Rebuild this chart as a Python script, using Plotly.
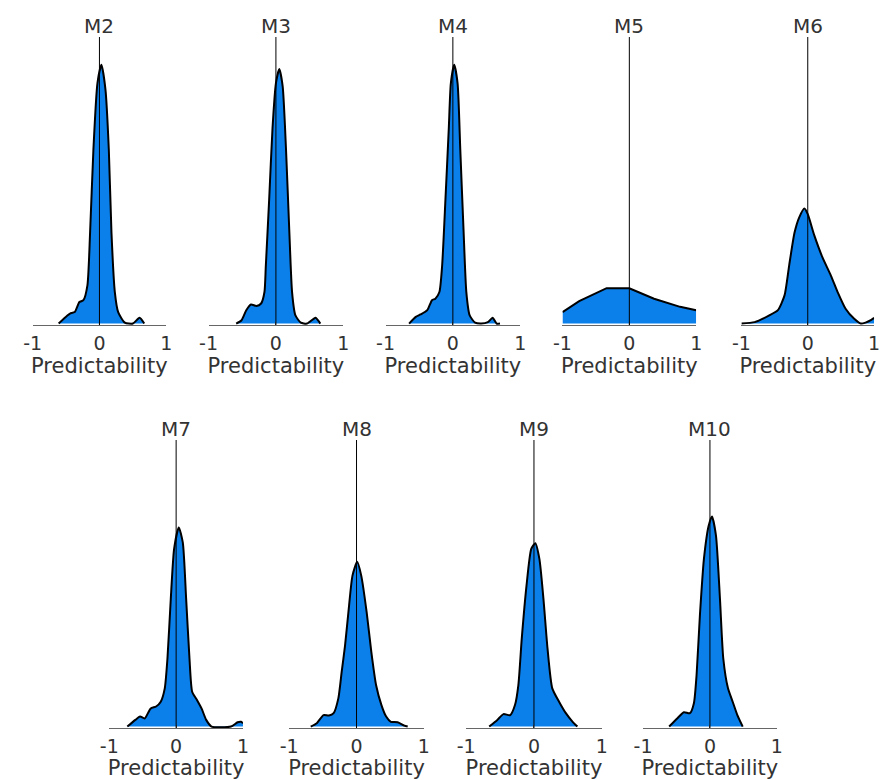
import plotly.graph_objects as go

# ---------------- data (density curves) ----------------
panels = ["M2", "M3", "M4", "M5", "M6", "M7", "M8", "M9", "M10"]

M2_x = [-0.61, -0.48, -0.44, -0.37, -0.30, -0.24, -0.18, -0.14, -0.09, -0.03, 0.03, 0.09, 0.14, 0.18, 0.23, 0.28, 0.38, 0.50, 0.60, 0.67]
M2_y = [0.0, 0.17, 0.21, 0.24, 0.45, 0.49, 0.80, 1.90, 3.65, 5.03, 5.42, 4.90, 3.65, 1.90, 0.66, 0.24, 0.02, 0.0, 0.12, 0.0]

M3_x = [-0.59, -0.51, -0.44, -0.37, -0.29, -0.22, -0.17, -0.15, -0.10, -0.05, 0.0, 0.05, 0.10, 0.15, 0.20, 0.24, 0.29, 0.37, 0.46, 0.56, 0.59, 0.66]
M3_y = [0.0, 0.07, 0.28, 0.40, 0.37, 0.42, 0.66, 1.20, 2.60, 4.10, 5.03, 5.33, 4.97, 3.65, 1.90, 0.66, 0.17, 0.02, 0.0, 0.10, 0.12, 0.0]

M4_x = [-0.65, -0.55, -0.48, -0.38, -0.31, -0.26, -0.20, -0.16, -0.11, -0.06, -0.03, 0.02, 0.07, 0.11, 0.16, 0.20, 0.25, 0.33, 0.42, 0.52, 0.59, 0.65, 0.70]
M4_y = [0.0, 0.14, 0.19, 0.28, 0.49, 0.52, 0.66, 1.20, 2.60, 4.10, 5.03, 5.42, 5.03, 3.65, 1.90, 0.66, 0.17, 0.02, 0.0, 0.03, 0.12, 0.0, 0.0]

M5_x = [-1.0, -0.75, -0.34, 0.0, 0.37, 0.76, 1.0]
M5_y = [0.24, 0.47, 0.74, 0.74, 0.52, 0.35, 0.28]

M6_x = [-1.0, -0.80, -0.58, -0.45, -0.35, -0.28, -0.20, -0.13, -0.05, 0.0, 0.10, 0.22, 0.35, 0.45, 0.57, 0.70, 0.80, 0.87, 0.95, 1.0]
M6_y = [0.0, 0.03, 0.17, 0.28, 0.59, 1.22, 1.90, 2.22, 2.41, 2.29, 1.84, 1.39, 1.00, 0.66, 0.31, 0.10, 0.0, 0.02, 0.07, 0.12]

M7_x = [-0.73, -0.61, -0.54, -0.47, -0.38, -0.30, -0.23, -0.17, -0.13, -0.08, -0.03, 0.04, 0.10, 0.15, 0.20, 0.24, 0.31, 0.38, 0.45, 0.53, 0.82, 0.92, 0.97, 1.0]
M7_y = [0.0, 0.14, 0.21, 0.17, 0.38, 0.42, 0.52, 0.80, 1.42, 2.67, 3.72, 4.17, 3.85, 2.67, 1.42, 0.73, 0.56, 0.38, 0.14, 0.0, 0.0, 0.09, 0.10, 0.07]

M8_x = [-0.68, -0.59, -0.49, -0.41, -0.34, -0.27, -0.22, -0.17, -0.12, -0.06, 0.01, 0.07, 0.15, 0.22, 0.29, 0.37, 0.44, 0.51, 0.61, 0.71, 0.76]
M8_y = [0.0, 0.07, 0.24, 0.23, 0.28, 0.59, 1.15, 1.70, 2.40, 3.16, 3.45, 3.16, 2.40, 1.56, 0.87, 0.45, 0.21, 0.10, 0.09, 0.02, 0.0]

M9_x = [-0.66, -0.54, -0.45, -0.35, -0.28, -0.23, -0.18, -0.11, -0.04, 0.02, 0.08, 0.14, 0.20, 0.27, 0.37, 0.47, 0.57, 0.64]
M9_y = [0.0, 0.14, 0.26, 0.24, 0.45, 0.87, 1.84, 2.95, 3.72, 3.84, 3.51, 2.67, 1.63, 0.80, 0.52, 0.28, 0.10, 0.0]

M10_x = [-0.61, -0.49, -0.39, -0.30, -0.24, -0.20, -0.15, -0.09, -0.02, 0.03, 0.09, 0.15, 0.20, 0.27, 0.34, 0.41, 0.49]
M10_y = [0.0, 0.17, 0.30, 0.28, 0.49, 1.08, 2.33, 3.51, 4.20, 4.40, 4.00, 2.67, 1.42, 0.80, 0.52, 0.24, 0.0]

curves = {
    "M2": (M2_x, M2_y), "M3": (M3_x, M3_y), "M4": (M4_x, M4_y),
    "M5": (M5_x, M5_y), "M6": (M6_x, M6_y), "M7": (M7_x, M7_y),
    "M8": (M8_x, M8_y), "M9": (M9_x, M9_y), "M10": (M10_x, M10_y),
}

tick_vals = [-1, 0, 1]
tick_text = ["-1", "0", "1"]
x_title = "Predictability"

# ---------------- layout (pixel geometry) ----------------
W, H = 887, 780
panel_px = {
    "M2": (24, 160), "M3": (203, 340), "M4": (383, 520), "M5": (563, 699), "M6": (745, 880),
    "M7": (102, 238), "M8": (285, 422), "M9": (465, 603), "M10": (645, 781),
}
row_px = {"top": (37, 325), "bottom": (440, 728)}
panel_row = {p: ("top" if i < 5 else "bottom") for i, p in enumerate(panels)}

BLUE = "#0B80EB"
TXT = "#333333"
FONT = "DejaVu Sans"

fig = go.Figure()
shapes, annotations = [], []
layout_axes = {}

for i, name in enumerate(panels):
    sfx = "" if i == 0 else str(i + 1)
    xs, ys = curves[name]
    fig.add_trace(go.Scatter(
        x=xs, y=ys, xaxis="x" + sfx, yaxis="y" + sfx, mode="lines",
        line=dict(color="black", width=2,
                  shape="linear" if name == "M5" else "spline", smoothing=0.6),
        fill="tozeroy", fillcolor=BLUE, hoverinfo="skip", showlegend=False,
    ))
    l, r = panel_px[name]
    t, b = row_px[panel_row[name]]
    layout_axes["xaxis" + sfx] = dict(
        domain=[l / W, r / W], range=[-1, 1], anchor="y" + sfx,
        tickvals=tick_vals, ticktext=tick_text, ticks="inside", ticklen=3,
        tickcolor="#555555", tickwidth=1,
        showline=True, linecolor="#666666", linewidth=1,
        showgrid=False, zeroline=False,
        tickfont=dict(family=FONT, size=19, color=TXT),
        ticklabelstandoff=1,
        title=dict(text=x_title, font=dict(family=FONT, size=21, color=TXT), standoff=1),
        fixedrange=True,
    )
    layout_axes["yaxis" + sfx] = dict(
        domain=[1 - b / H, 1 - t / H], range=[-0.03, 6], anchor="x" + sfx,
        visible=False, fixedrange=True,
    )
    shapes.append(dict(type="line", xref="x" + sfx, yref="y" + sfx + " domain",
                       x0=0, x1=0, y0=0, y1=1, line=dict(color="black", width=1)))
    annotations.append(dict(xref="x" + sfx, yref="y" + sfx + " domain", x=0, y=1,
                            yanchor="bottom", xanchor="center", yshift=-3,
                            text=name, showarrow=False,
                            font=dict(family=FONT, size=20, color=TXT)))

fig.update_layout(
    width=W, height=H, margin=dict(l=0, r=0, t=0, b=0),
    paper_bgcolor="white", plot_bgcolor="white",
    shapes=shapes, annotations=annotations, **layout_axes,
)

fig.write_html(
    "out.html",
    config={"displayModeBar": False},
    post_script="document.body.style.margin='0';document.body.style.overflow='hidden';",
)
